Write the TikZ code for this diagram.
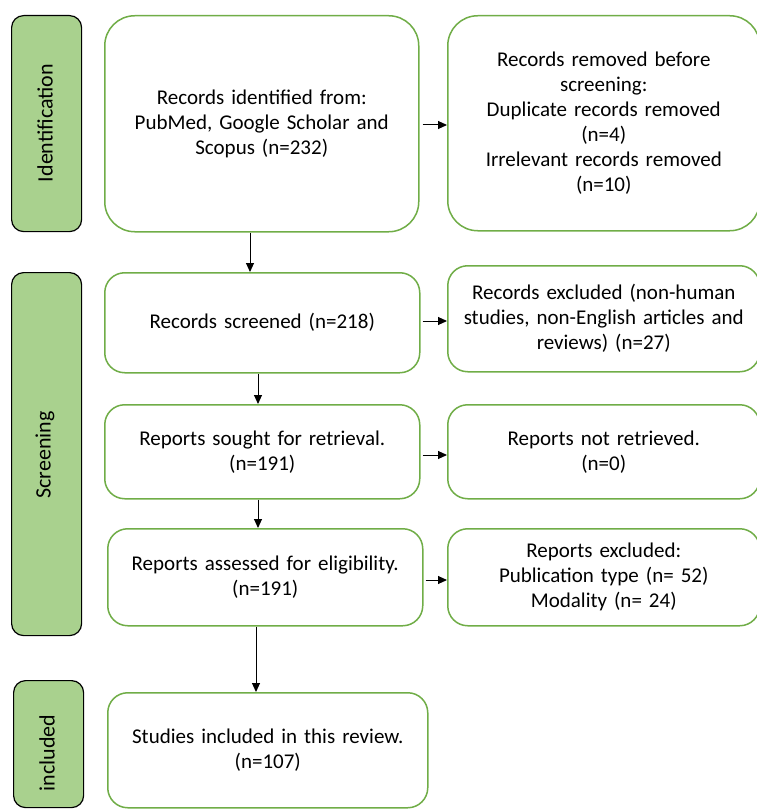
\documentclass[tikz,border=0pt]{standalone}
\usepackage{fontspec}
\setmainfont{Carlito}
\usetikzlibrary{arrows.meta}
\definecolor{boxgreen}{HTML}{70AD47}
\definecolor{barfill}{HTML}{A9D18E}
\begin{document}
\begin{tikzpicture}[x=1pt,y=1pt,
  box/.style={draw=boxgreen, line width=1.5pt, fill=white, align=center, anchor=north west,
    inner sep=0pt, font=\fontsize{21}{25}\selectfont, text width=300pt},
  bar/.style={draw=black, line width=1.2pt, fill=barfill, anchor=north west, inner sep=0pt,
    rounded corners=12pt, minimum width=70pt},
  barlabel/.style={rotate=90, font=\fontsize{22}{24}\selectfont},
  arr/.style={-{Triangle[length=9pt,width=8pt]}, line width=1pt, black}]
\useasboundingbox (0,0) rectangle (756,-810);
% phase bars
\node[bar, minimum height=216pt] (bid) at (11,-15) {};
\node[barlabel] (lid) at (45,-123) {Identification};
\node[bar, minimum height=363pt] (bsc) at (11,-272) {};
\node[barlabel] (lsc) at (45,-455) {Screening};
\node[bar, minimum height=127pt] (bin) at (13,-680) {};
\node[barlabel] (lin) at (47,-753) {included};
% left column
\node[box, rounded corners=30pt, minimum width=314pt, minimum height=216pt] (ident) at (104,-15)
  {Records identified from:\\PubMed, Google Scholar and\\Scopus (n=232)};
\node[box, rounded corners=20pt, minimum width=315pt, minimum height=100pt] (screen) at (104,-272)
  {Records screened (n=218)};
\node[box, rounded corners=20pt, minimum width=315pt, minimum height=94pt] (sought) at (104,-404)
  {Reports sought for retrieval.\\(n=191)};
\node[box, rounded corners=20pt, minimum width=315pt, minimum height=97pt] (assess) at (107,-528)
  {Reports assessed for eligibility.\\(n=191)};
\node[box, rounded corners=20pt, minimum width=320pt, minimum height=115pt] (incl) at (107,-692)
  {Studies included in this review.\\(n=107)};
% right column
\node[box, rounded corners=30pt, minimum width=312pt, minimum height=215pt] (removed) at (447,-15)
  {Records removed before\\screening:\\Duplicate records removed\\(n=4)\\Irrelevant records removed\\(n=10)};
\node[box, rounded corners=20pt, minimum width=312pt, minimum height=106pt] (excl) at (447,-265)
  {Records excluded (non-human\\studies, non-English articles and\\reviews) (n=27)};
\node[box, rounded corners=20pt, minimum width=312pt, minimum height=94pt] (notret) at (447,-404)
  {Reports not retrieved.\\(n=0)};
\node[box, rounded corners=20pt, minimum width=312pt, minimum height=97pt] (rexcl) at (447,-528)
  {Reports excluded:\\Publication type (n= 52)\\Modality (n= 24)};
% vertical arrows
\coordinate (a1) at (250,-231);
\draw[arr] (ident.south -| a1) -- (screen.north -| a1);
\coordinate (a2) at (258,0);
\draw[arr] (screen.south -| a2) -- (sought.north -| a2);
\draw[arr] (sought.south -| a2) -- (assess.north -| a2);
\coordinate (a3) at (256,0);
\draw[arr] (assess.south -| a3) -- (incl.north -| a3);
% horizontal arrows
\coordinate (h1) at (0,-125);
\draw[arr] (ident.east |- h1) ++(3,0) -- (removed.west |- h1);
\coordinate (h2) at (0,-321);
\draw[arr] (screen.east |- h2) ++(2,0) -- (excl.west |- h2);
\coordinate (h3) at (0,-455);
\draw[arr] (sought.east |- h3) ++(2,0) -- (notret.west |- h3);
\coordinate (h4) at (0,-580);
\draw[arr] (assess.east |- h4) ++(2,0) -- (rexcl.west |- h4);
\end{tikzpicture}
\end{document}
